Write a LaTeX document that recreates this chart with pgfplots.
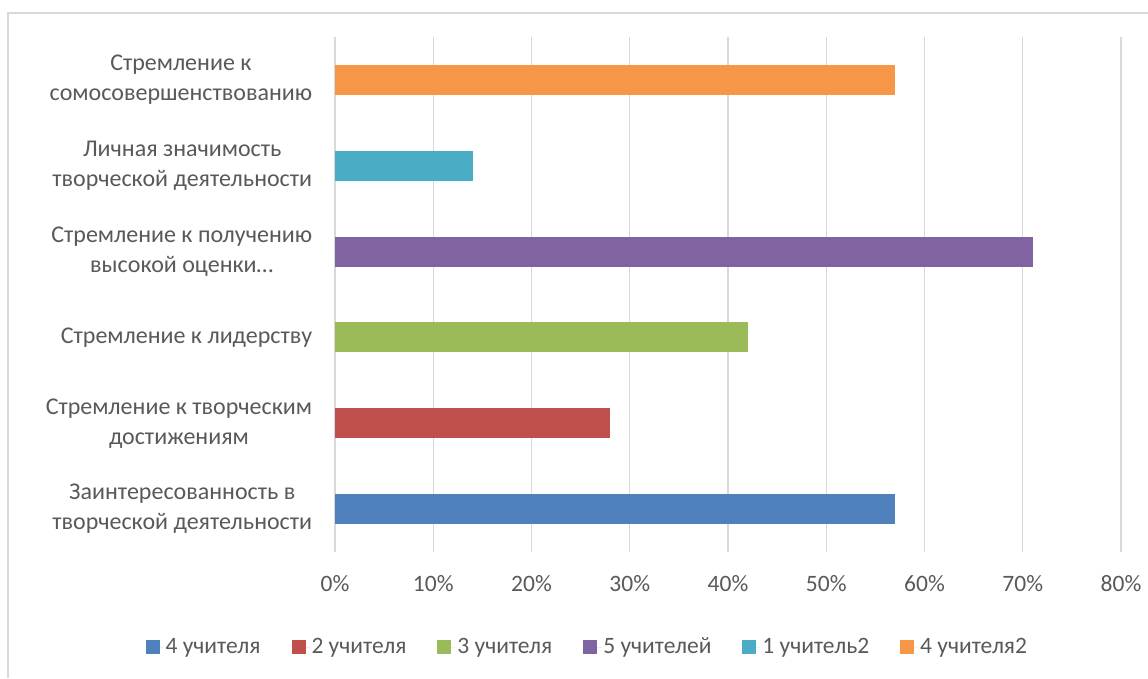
\documentclass[border=0pt]{standalone}
\usepackage{pgfplots}
\pgfplotsset{compat=1.18}
\usepackage{fontspec}
\setmainfont{Carlito}
\definecolor{txt}{HTML}{595959}
\definecolor{gridc}{HTML}{D9D9D9}
\definecolor{c1}{HTML}{4F81BD}
\definecolor{c2}{HTML}{C0504D}
\definecolor{c3}{HTML}{9BBB59}
\definecolor{c4}{HTML}{8064A2}
\definecolor{c5}{HTML}{4BACC6}
\definecolor{c6}{HTML}{F79646}
\begin{document}
\fontsize{20pt}{29pt}\selectfont
\begin{tikzpicture}
\useasboundingbox (0,0) rectangle (1148pt,678pt);
\draw[gridc, line width=1.2pt] (8pt,0) -- (8pt,665pt) -- (1148pt,665pt);
\begin{axis}[
  at={(335pt,126pt)}, anchor=south west,
  scale only axis, width=786pt, height=515pt,
  xmin=0, xmax=80, ymin=-0.5, ymax=5.5,
  xbar, bar width=30pt, bar shift=0pt,
  xtick={0,10,...,80},
  xticklabel={\pgfmathprintnumber{\tick}\%},
  /pgf/number format/assume math mode=true,
  ytick={0,1,2,3,4,5},
  yticklabels={{Заинтересованность в\\творческой деятельности},
               {Стремление к творческим\\достижениям},
               {Стремление к лидерству},
               {Стремление к получению\\высокой оценки…},
               {Личная значимость\\творческой деятельности},
               {Стремление к\\сомосовершенствованию}},
  yticklabel style={align=center, font=\fontsize{24pt}{30pt}\selectfont, text=txt, xshift=-16pt},
  xticklabel style={font=\fontsize{23.5pt}{26pt}\selectfont, text=txt, yshift=-17pt},
  major tick length=0pt,
  xmajorgrids, grid style={gridc, line width=1.2pt},
  axis line style={draw=none},
  legend columns=6,
  legend style={at={(0.321,-0.1845)}, anchor=center, draw=none, fill=none,
    font=\fontsize{23.5pt}{26pt}\selectfont, text=txt,
    /tikz/every even column/.append style={column sep=29pt}},
  legend image code/.code={\fill[#1] (0pt,-7pt) rectangle (14pt,7pt); \path (0pt,0pt) -- (18pt,0pt);},
]
\addplot[fill=c1, draw=none] coordinates {(57,0)};
\addplot[fill=c2, draw=none] coordinates {(28,1)};
\addplot[fill=c3, draw=none] coordinates {(42,2)};
\addplot[fill=c4, draw=none] coordinates {(71,3)};
\addplot[fill=c5, draw=none] coordinates {(14,4)};
\addplot[fill=c6, draw=none] coordinates {(57,5)};
\legend{4 учителя, 2 учителя, 3 учителя, 5 учителей, 1 учитель2, 4 учителя2}
\end{axis}
\end{tikzpicture}
\end{document}
